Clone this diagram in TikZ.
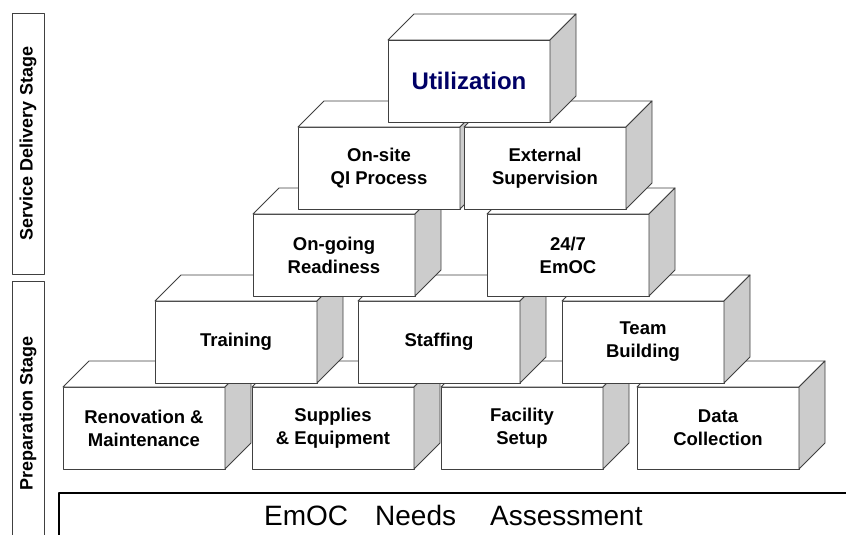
\documentclass[tikz,border=0pt]{standalone}
\usepackage{fontspec}
\setmainfont{Liberation Sans}
\definecolor{sidegray}{RGB}{204,204,204}
\definecolor{edgegray}{RGB}{64,64,64}
\definecolor{navy}{RGB}{0,0,102}
\begin{document}
\begin{tikzpicture}[x=1pt,y=-1pt,line join=round,
		block/.style={draw=edgegray,line width=0.9pt,fill=white,minimum width=162pt,minimum height=82pt,inner sep=0pt,outer sep=0pt,align=center,font=\fontsize{18.5}{23}\selectfont\bfseries},
		face/.style={draw=edgegray,line width=0.9pt},
		stage/.style={draw=edgegray,line width=0.9pt,rotate=90,minimum height=32pt,inner sep=0pt,font=\fontsize{18}{20}\selectfont\bfseries}]
			\def\emblock#1#2#3#4{%
				\node[block] (#1) at (#2+81,#3+41) {#4};
				\draw[face,fill=white] (#1.north west) -- ++(26,-26) -- ([shift={(26,-26)}]#1.north east) -- (#1.north east) -- cycle;
				\draw[face,fill=sidegray] (#1.north east) -- ++(26,-26) -- ([shift={(26,-26)}]#1.south east) -- (#1.south east) -- cycle;}
			\useasboundingbox (0,0) rectangle (846,535);
			\clip (0,0) rectangle (846,535);
			% stages
			\node[stage,minimum width=261pt] (service) at (28,143.5) {Service Delivery Stage};
			\node[stage,minimum width=264pt] (prep) at (28,413) {Preparation Stage};
			% base
			\draw[line width=2pt] (59,493) rectangle (900,600);
			\node[anchor=base west,inner sep=0pt,font=\fontsize{28}{32}\selectfont] (needs) at (264,525) {EmOC\hspace{27pt}Needs\hspace{34pt}Assessment};
			% preparation blocks
			\emblock{renov}{63}{387}{Renovation \&\\Maintenance}
			\emblock{supplies}{252}{387}{Supplies\\\& Equipment}
			\emblock{facility}{441}{387}{Facility\\Setup}
			\emblock{data}{637}{387}{Data\\Collection}
			\emblock{training}{155}{301}{Training}
			\emblock{staffing}{358}{301}{Staffing}
			\emblock{team}{562}{301}{Team\\Building}
			% service delivery blocks
			\emblock{readiness}{253}{214}{On-going\\Readiness}
			\emblock{emoc}{487}{214}{24/7\\EmOC}
			\emblock{qi}{298}{127}{On-site\\QI Process}
			\emblock{supervision}{464}{127}{External\\Supervision}
			\emblock{util}{388}{40}{\color{navy}\fontsize{24}{28}\selectfont Utilization}
	\end{tikzpicture}
\end{document}
